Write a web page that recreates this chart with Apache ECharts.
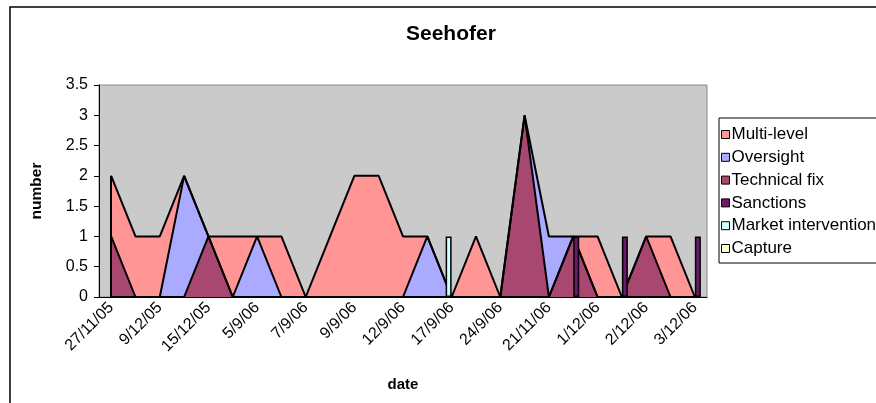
<!DOCTYPE html>
<html>
<head>
<meta charset="utf-8">
<script src="https://cdn.jsdelivr.net/npm/echarts@6/dist/echarts.min.js"></script>
<style>
  html, body { margin: 0; padding: 0; background: #fff; }
  #chart { width: 876px; height: 403px; }
</style>
</head>
<body>
<div id="chart"></div>
<script>
// categories: only every other date is labelled in the source
const dates = ['27/11/05', '', '9/12/05', '', '15/12/05', '', '5/9/06', '', '7/9/06', '', '9/9/06', '', '12/9/06', '',
  '17/9/06', '', '24/9/06', '', '21/11/06', '', '1/12/06', '', '2/12/06', '', '3/12/06']

const multiLevel = [2, 1, 1, 2, 1, 1, 1, 1, 0, 1, 2, 2, 1, 1, 0, 1, 0, 0, 0, 1, 1, 0, 1, 1, 0]
const oversight = [0, 0, 0, 2, 1, 0, 1, 0, 0, 0, 0, 0, 0, 1, 0, 0, 0, 3, 1, 1, 0, 0, 0, 0, 0]
const technicalFix = [1, 0, 0, 0, 1, 0, 0, 0, 0, 0, 0, 0, 0, 0, 0, 0, 0, 3, 0, 1, 0, 0, 1, 0, 0]
const sanctions = [null, null, null, null, null, null, null, null, null, null, null, null, null, null,
  null, null, null, null, null, 1, null, 1, null, null, 1]
const marketIntervention = [null, null, null, null, null, null, null, null, null, null, null, null, null, null,
  1, null, null, null, null, null, null, null, null, null, null]
const capture = dates.map(() => null)

const yTicks = { min: 0, max: 3.5, interval: 0.5 }

const FONT = 'Liberation Sans, Arial, sans-serif'

const colors = {
  multi: '#FF9595',
  oversight: '#AAAAFF',
  tech: '#A8476F',
  sanctions: '#6A1A6A',
  market: '#CCFFFF',
  capture: '#FFFFCC'
}

const chart = echarts.init(document.getElementById('chart'))

// area series with black outline, plus the vertical edge at the first point
const areaSeries = (name, data, color) => ({
  name,
  type: 'line',
  data,
  symbol: 'none',
  itemStyle: { color },
  lineStyle: { color: '#000', width: 2 },
  areaStyle: { color, opacity: 1 },
  markLine: data[0] ? {
    silent: true,
    symbol: 'none',
    label: { show: false },
    lineStyle: { color: '#000', width: 2, type: 'solid' },
    data: [[{ coord: [0, 0] }, { coord: [0, data[0]] }]]
  } : undefined
})

// isolated points show up as thin bars in the source
const barSeries = (name, data, color) => ({
  name,
  type: 'bar',
  data,
  barWidth: 6,
  barGap: 0,
  z: 4,
  itemStyle: { color, borderColor: '#000', borderWidth: 1.5 }
})

const legendItem = (name, color) => ({
  name,
  icon: 'rect',
  itemStyle: { color, borderColor: '#000', borderWidth: 1 }
})

chart.setOption({
  backgroundColor: '#fff',
  animation: false,
  textStyle: { fontFamily: FONT },
  graphic: [{
    type: 'rect',
    shape: { x: 10, y: 7, width: 900, height: 500 },
    style: { fill: 'none', stroke: '#000', lineWidth: 1.5 },
    silent: true,
    z: -1
  }],
  title: {
    text: 'Seehofer',
    left: 401,
    top: 19,
    textStyle: { fontFamily: FONT, fontSize: 21, fontWeight: 'bold', color: '#000' }
  },
  legend: {
    orient: 'vertical',
    left: 719,
    top: 118,
    padding: [8, 10, 6, 2],
    itemWidth: 8,
    itemHeight: 8,
    itemGap: 5.8,
    borderColor: '#000',
    borderWidth: 1,
    textStyle: { fontFamily: FONT, fontSize: 17, color: '#000', padding: [0, 0, 0, -3] },
    data: [
      legendItem('Multi-level', colors.multi),
      legendItem('Oversight', colors.oversight),
      legendItem('Technical fix', colors.tech),
      legendItem('Sanctions', colors.sanctions),
      legendItem('Market intervention', colors.market),
      legendItem('Capture', colors.capture)
    ]
  },
  grid: {
    left: 99,
    right: 169,
    top: 85,
    bottom: 106,
    show: true,
    backgroundColor: '#C9CAC9',
    borderColor: '#8a8a8a',
    borderWidth: 1
  },
  xAxis: {
    type: 'category',
    data: dates,
    boundaryGap: true,
    name: 'date',
    nameLocation: 'middle',
    nameGap: 80,
    nameTextStyle: { fontFamily: FONT, fontSize: 15, fontWeight: 'bold', color: '#000' },
    axisLine: { lineStyle: { color: '#000', width: 1 } },
    axisTick: { interval: 0, length: 5, lineStyle: { color: '#000' } },
    axisLabel: { interval: 1, rotate: 45, margin: 8, fontFamily: FONT, fontSize: 16, color: '#000' },
    splitLine: { show: false }
  },
  yAxis: {
    type: 'value',
    min: yTicks.min,
    max: yTicks.max,
    interval: yTicks.interval,
    name: 'number',
    nameLocation: 'middle',
    nameRotate: 90,
    nameGap: 54,
    nameTextStyle: { fontFamily: FONT, fontSize: 15.5, fontWeight: 'bold', color: '#000' },
    axisLine: { show: true, lineStyle: { color: '#000', width: 1 } },
    axisTick: { show: true, length: 5, lineStyle: { color: '#000' } },
    axisLabel: { margin: 11, fontFamily: FONT, fontSize: 16, color: '#000' },
    splitLine: { show: false }
  },
  series: [
    areaSeries('Multi-level', multiLevel, colors.multi),
    areaSeries('Oversight', oversight, colors.oversight),
    areaSeries('Technical fix', technicalFix, colors.tech),
    barSeries('Market intervention', marketIntervention, colors.market),
    barSeries('Sanctions', sanctions, colors.sanctions),
    {
      name: 'Capture',
      type: 'line',
      data: capture,
      symbol: 'none',
      itemStyle: { color: colors.capture },
      lineStyle: { color: '#000', width: 2 }
    }
  ]
})
</script>
</body>
</html>
